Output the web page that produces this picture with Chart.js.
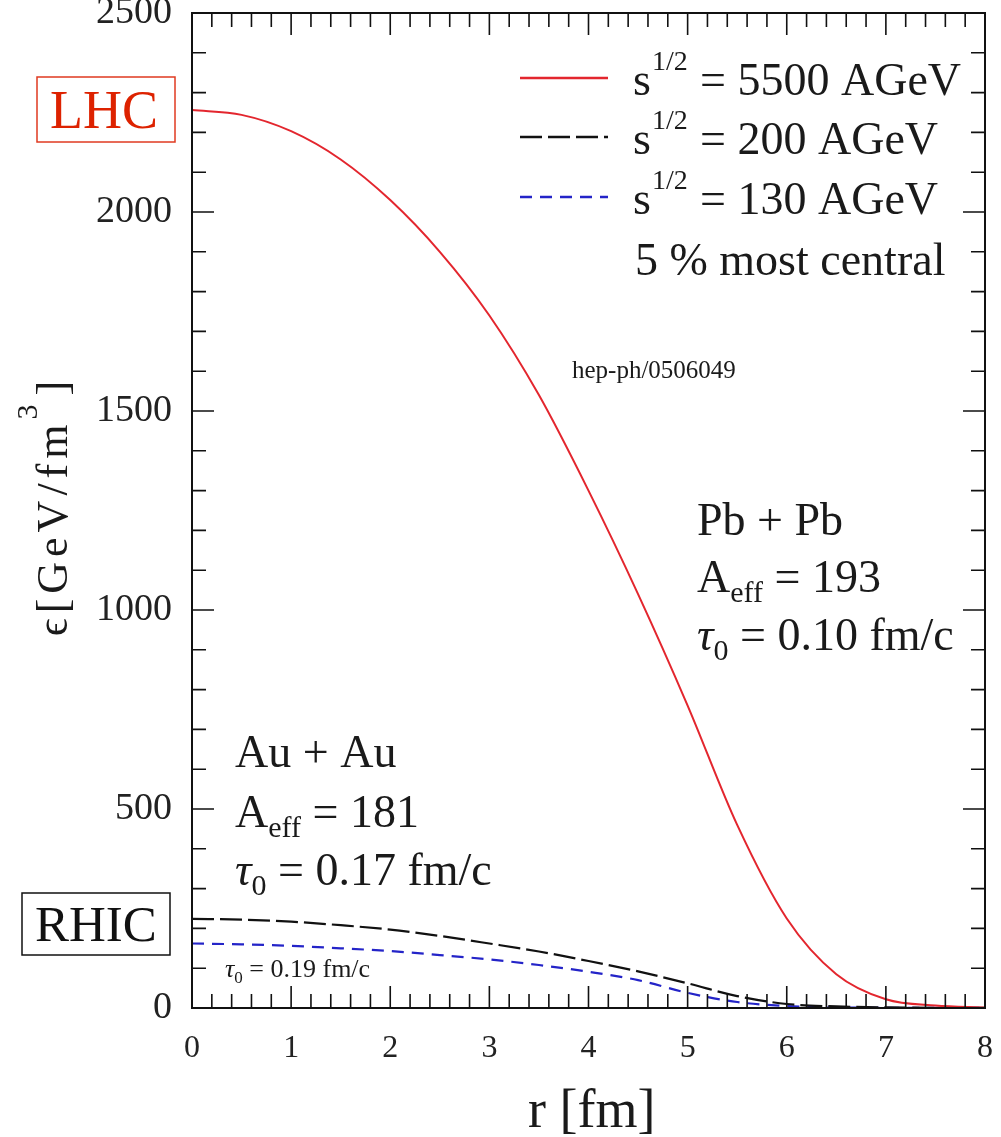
<!DOCTYPE html>
<html lang="en">
<head>
<meta charset="UTF-8">
<title>Energy density profile</title>
<script src="https://cdn.jsdelivr.net/npm/chart.js@4.4.1/dist/chart.umd.min.js"></script>
<style>
  html, body { margin: 0; padding: 0; background: #fff; }
  #wrap { width: 1001px; height: 1137px; position: relative; }
</style>
</head>
<body>
<div id="wrap"><canvas id="epsChart"></canvas></div>
<script>
// r [fm]
const radius = [0, 0.5, 1, 1.5, 2, 2.5, 3, 3.5, 4, 4.5, 5, 5.5, 6, 6.5, 7, 7.5, 8];
// energy density [GeV/fm^3]
const eps5500 = [2256, 2244, 2203, 2132, 2030, 1900, 1740, 1540, 1300, 1040, 760, 460, 225, 85, 22, 6, 1];
const eps200 = [224, 222, 217, 208, 197, 181, 162, 142, 118, 92, 62, 30, 10, 4, 1.5, 0.5, 0.2];
const eps130 = [162, 160, 156, 150, 143, 133, 122, 108, 91, 70, 38, 15, 5, 1.5, 0.5, 0.2, 0.1];

const xTicks = [0, 1, 2, 3, 4, 5, 6, 7, 8];
const yTicks = [0, 500, 1000, 1500, 2000, 2500];
const legendLabels = ['5500 AGeV', '200 AGeV', '130 AGeV'];

const SERIF = '"Liberation Serif", "DejaVu Serif", serif';

// draw a run of text pieces: [text, size, dy, italic]
function rich(c, x, y, parts) {
    for (const p of parts) {
        c.font = (p[3] ? 'italic ' : '') + p[1] + 'px ' + SERIF;
        c.fillText(p[0], x, y + (p[2] || 0));
        x += c.measureText(p[0]).width;
    }
    return x;
}

// frame, inward ticks, legend and labels
const framePlugin = {
    id: 'frame',
    afterDraw(chart) {
        const c = chart.ctx;
        const a = chart.chartArea;
        const xs = chart.scales.x, ys = chart.scales.y;
        c.save();
        c.strokeStyle = '#111';
        c.fillStyle = '#1a1a1a';

        // ticks
        c.lineWidth = 1.6;
        c.beginPath();
        for (let v = 0; v <= 2500; v += 100) {
            const py = ys.getPixelForValue(v);
            const len = v % 500 === 0 ? 22 : 14;
            c.moveTo(a.left, py); c.lineTo(a.left + len, py);
            c.moveTo(a.right, py); c.lineTo(a.right - len, py);
        }
        for (let i = 0; i <= 40; i++) {
            const px = xs.getPixelForValue(i * 0.2);
            const len = i % 5 === 0 ? 22 : 14;
            c.moveTo(px, a.bottom); c.lineTo(px, a.bottom - len);
            c.moveTo(px, a.top); c.lineTo(px, a.top + len);
        }
        c.stroke();

        c.lineWidth = 2;
        c.strokeRect(a.left, a.top, a.right - a.left, a.bottom - a.top);

        // legend
        c.textAlign = 'left';
        c.textBaseline = 'alphabetic';
        const rows = [78, 137, 197];
        chart.data.datasets.forEach((ds, i) => {
            c.beginPath();
            c.strokeStyle = ds.borderColor;
            c.lineWidth = ds.borderWidth + 0.5;
            c.setLineDash(ds.borderDash || []);
            c.moveTo(520, rows[i]); c.lineTo(608, rows[i]);
            c.stroke();
            c.setLineDash([]);
            const base = rows[i] + 17;
            rich(c, 633, base, [['s', 46]]);
            rich(c, 652, base - 25, [['1/2', 28]]);
            rich(c, 700, base, [['= ' + legendLabels[i], 46]]);
        });
        rich(c, 635, 275, [['5 % most central', 46]]);

        rich(c, 572, 378, [['hep-ph/0506049', 25]]);

        // Pb + Pb block
        rich(c, 697, 535, [['Pb + Pb', 46]]);
        rich(c, 697, 592, [['A', 46], ['eff', 30, 10], [' = 193', 46]]);
        rich(c, 697, 650, [['τ', 46, 0, true], ['0', 30, 10], [' = 0.10 fm/c', 46]]);

        // Au + Au block
        rich(c, 235, 767, [['Au + Au', 46]]);
        rich(c, 235, 827, [['A', 46], ['eff', 30, 10], [' = 181', 46]]);
        rich(c, 235, 885, [['τ', 46, 0, true], ['0', 30, 10], [' = 0.17 fm/c', 46]]);
        rich(c, 225, 977, [['τ', 26, 0, true], ['0', 17, 6], [' = 0.19 fm/c', 26]]);

        // boxes
        c.strokeStyle = '#e03a20';
        c.lineWidth = 1.5;
        c.strokeRect(37, 77, 138, 65);
        c.fillStyle = '#dd2200';
        rich(c, 50, 128, [['LHC', 54]]);
        c.strokeStyle = '#111';
        c.strokeRect(22, 893, 148, 62);
        c.fillStyle = '#111';
        rich(c, 35, 941, [['RHIC', 51]]);

        // axis titles
        c.fillStyle = '#1a1a1a';
        rich(c, 528, 1127, [['r [fm]', 54]]);

        c.translate(67, 508);
        c.rotate(-Math.PI / 2);
        c.letterSpacing = '5px';
        c.font = '44px ' + SERIF;
        const w1 = c.measureText('ϵ[GeV/fm').width;
        c.font = '30px ' + SERIF;
        const w2 = c.measureText('3').width;
        c.font = '44px ' + SERIF;
        const w3 = c.measureText(']').width;
        let x0 = -(w1 + w2 + w3) / 2;
        x0 = rich(c, x0, 0, [['ϵ[GeV/fm', 44]]);
        x0 = rich(c, x0, -30, [['3', 30]]);
        rich(c, x0 + 4, 0, [[']', 44]]);
        c.restore();
    }
};

const ctx = document.getElementById('epsChart').getContext('2d');
new Chart(ctx, {
    type: 'line',
    data: {
        datasets: [
            {
                label: legendLabels[0],
                data: radius.map((r, i) => ({ x: r, y: eps5500[i] })),
                borderColor: '#e3262e',
                borderWidth: 2
            },
            {
                label: legendLabels[1],
                data: radius.map((r, i) => ({ x: r, y: eps200[i] })),
                borderColor: '#111111',
                borderWidth: 2.2,
                borderDash: [22, 6]
            },
            {
                label: legendLabels[2],
                data: radius.map((r, i) => ({ x: r, y: eps130[i] })),
                borderColor: '#2424c8',
                borderWidth: 2.2,
                borderDash: [12, 8]
            }
        ]
    },
    options: {
        responsive: true,
        maintainAspectRatio: false,
        animation: false,
        layout: { padding: { top: 13, right: 16, left: 0, bottom: 0 } },
        plugins: { legend: { display: false }, tooltip: { enabled: false } },
        elements: { point: { radius: 0 }, line: { cubicInterpolationMode: 'monotone' } },
        scales: {
            x: {
                type: 'linear', min: 0, max: 8,
                grid: { display: false, drawTicks: false },
                border: { display: false },
                afterBuildTicks: s => { s.ticks = xTicks.map(v => ({ value: v })); },
                afterFit: s => { s.height = 129; s.paddingLeft = 0; s.paddingRight = 0; },
                ticks: {
                    font: { family: SERIF, size: 32 }, color: '#222', padding: 21,
                    maxRotation: 0, autoSkip: false, callback: v => String(v)
                }
            },
            y: {
                type: 'linear', min: 0, max: 2500,
                grid: { display: false, drawTicks: false },
                border: { display: false },
                afterBuildTicks: s => { s.ticks = yTicks.map(v => ({ value: v })); },
                afterFit: s => { s.width = 192; s.paddingTop = 0; s.paddingBottom = 0; },
                ticks: { font: { family: SERIF, size: 38 }, color: '#222', padding: 20, callback: v => String(v) }
            }
        }
    },
    plugins: [framePlugin]
});
</script>
</body>
</html>
